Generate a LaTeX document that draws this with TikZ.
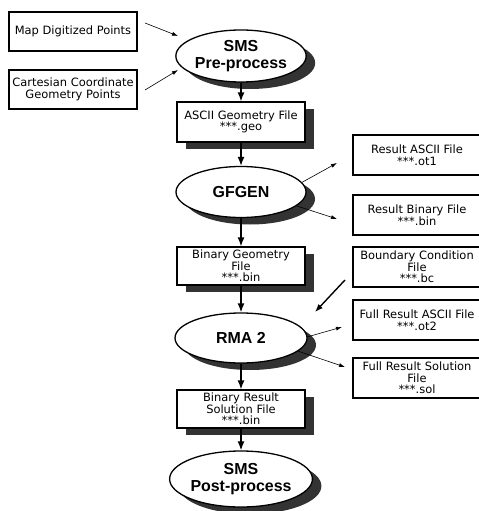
\documentclass[tikz,border=0pt]{standalone}
\usepackage{fontspec}
\setmainfont{DejaVu Sans}
\newfontfamily\headfont{Liberation Sans}
\usepackage{tikz}
\usetikzlibrary{shapes.geometric}
\usetikzlibrary{shadows}
\usetikzlibrary{arrows.meta}

\begin{document}
\begin{tikzpicture}[x=1bp,y=-1bp]
		\pgfmathsetmacro{\M}{241}
		\pgfmathsetmacro{\R}{417}
		\tikzstyle{file}=[draw, rectangle, line width=1.2bp, fill=white, minimum width=128bp, minimum height=39bp, inner sep=0pt, align=center, font=\fontsize{11.5}{11.6}\selectfont]
		\tikzstyle{shade}=[drop shadow={shadow xshift=9bp, shadow yshift=-7bp, fill=black!80, opacity=1}]
		\tikzstyle{process}=[draw, ellipse, line width=1.3bp, fill=white, inner sep=0pt, align=center, font=\headfont\bfseries\fontsize{16}{17}\selectfont]
		\tikzstyle{flow}=[draw, line width=1.4bp, -{Latex[length=9bp,width=7bp]}]
		\tikzstyle{link}=[draw, line width=.6bp, -{Latex[length=6bp,width=4bp]}]
		\tikzstyle{feed}=[draw, line width=1.4bp, -{Latex[length=8bp,width=6bp]}]

		\clip (0,0) rectangle (479,511);

		\node[file] (map) at (73,31.5) {Map Digitized Points};
		\node[file] (cart) at (73,89.5) {Cartesian Coordinate\\Geometry Points};

		\node[process, shade, minimum width=124bp, minimum height=52bp] (pre) at (\M,56) {SMS\\Pre-process};
		\node[file, shade, minimum height=40bp] (geo) at (\M,122) {ASCII Geometry File\\***.geo};
		\node[process, shade, minimum width=130bp, minimum height=51bp] (gfgen) at (\M,192) {GFGEN};
		\node[file, shade, minimum height=38bp] (bgeo) at (\M,266) {Binary Geometry\\File\\***.bin};
		\node[process, shade, minimum width=132bp, minimum height=50bp] (rma) at (\M,338) {RMA 2};
		\node[file, shade, minimum height=38bp] (bres) at (\M,409) {Binary Result\\Solution File\\***.bin};
		\node[process, shade, minimum width=124bp, minimum height=56bp] (post) at (\M,479) {SMS\\Post-process};

		\node[file, minimum height=40bp] (ot1) at (\R,155) {Result ASCII File\\***.ot1};
		\node[file, minimum height=40bp] (rbin) at (\R,215) {Result Binary File\\***.bin};
		\node[file, minimum height=40bp] (bc) at (\R,267) {Boundary Condition\\File\\***.bc};
		\node[file, minimum height=40bp] (ot2) at (\R,320) {Full Result ASCII File\\***.ot2};
		\node[file, minimum height=40bp] (sol) at (\R,378) {Full Result Solution\\File\\***.sol};

		\coordinate (map-a) at (145,23);
		\coordinate (map-b) at (178,36);
		\coordinate (cart-a) at (145,90);
		\coordinate (cart-b) at (178,70);
		\coordinate (ot1-b) at (337,163);
		\coordinate (rbin-b) at (337,219);
		\coordinate (bc-a) at (345,280);
		\coordinate (rma-b) at (315,312);
		\coordinate (ot2-b) at (342,327);
		\coordinate (sol-b) at (345,367);

		\draw[flow] (pre.south) -- (geo.north);
		\draw[flow] (geo.south) -- (gfgen.north);
		\draw[flow] (gfgen.south) -- (bgeo.north);
		\draw[flow] (bgeo.south) -- (rma.north);
		\draw[flow] (rma.south) -- (bres.north);
		\draw[flow] (bres.south) -- (post.north);

		\draw[link] (map-a) -- (map-b);
		\draw[link] (cart-a) -- (cart-b);
		\draw[link] (gfgen.9) -- (ot1-b);
		\draw[link] (gfgen.-14) -- (rbin-b);
		\draw[feed] (bc-a) -- (rma-b);
		\draw[link] (rma.1) -- (ot2-b);
		\draw[link] (rma.-13) -- (sol-b);
\end{tikzpicture}
\end{document}
